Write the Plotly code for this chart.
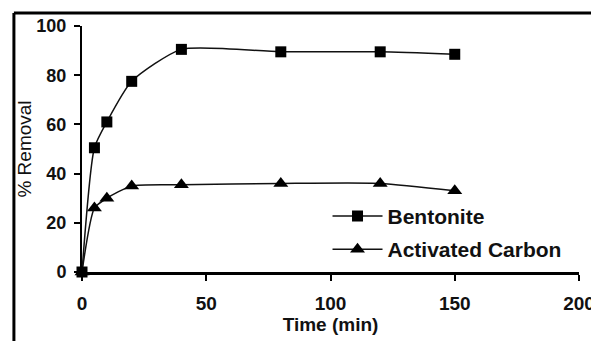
import plotly.graph_objects as go

time_min = [0, 5, 10, 20, 40, 80, 120, 150]
bentonite = [0, 50.5, 61, 77.5, 90.5, 89.5, 89.5, 88.5]
activated_carbon = [0, 26, 30, 35, 35.5, 36, 36, 33]
x_ticks = [0, 50, 100, 150, 200]
y_ticks = [0, 20, 40, 60, 80, 100]

FONT = "Liberation Sans, Arial, sans-serif"

fig = go.Figure()
fig.add_trace(go.Scatter(
    x=time_min, y=bentonite, name="Bentonite", mode="lines+markers",
    line=dict(color="#111", width=1.5, shape="spline", smoothing=0.6),
    marker=dict(symbol="square", size=11, color="#000"),
    cliponaxis=False, legendgroup="a"))
fig.add_trace(go.Scatter(
    x=time_min, y=activated_carbon, name="Activated Carbon", mode="lines+markers",
    line=dict(color="#111", width=1.5, shape="spline", smoothing=0.6),
    marker=dict(symbol="triangle-up", size=13, color="#000"),
    cliponaxis=False, legendgroup="b"))

fig.update_layout(
    width=591, height=341,
    margin=dict(l=82, r=12, t=26, b=69),
    paper_bgcolor="white", plot_bgcolor="white",
    font=dict(family=FONT, color="#111", size=18, weight="bold"),
    showlegend=True,
    legend=dict(x=0.494, y=0.31, xanchor="left", yanchor="top",
                bgcolor="rgba(0,0,0,0)", font=dict(size=21, weight="bold"),
                tracegroupgap=3, itemwidth=50),
    xaxis=dict(range=[0, 200], tickvals=x_ticks, showgrid=False, zeroline=False,
               showline=True, linecolor="#000", linewidth=3, automargin=False,
               ticks="outside", ticklen=6, tickwidth=2, tickcolor="#000",
               tickfont=dict(size=19), ticklabeloverflow="allow", ticklabelstandoff=6,
               title=dict(text="Time (min)", font=dict(size=19), standoff=5)),
    yaxis=dict(range=[0, 100], tickvals=y_ticks, showgrid=False, zeroline=False,
               showline=True, linecolor="#000", linewidth=2, automargin=False,
               ticks="outside", ticklen=6, tickwidth=2, tickcolor="#000",
               tickfont=dict(size=18), ticklabelstandoff=4,
               title=dict(text="% Removal", font=dict(size=19, weight="normal"), standoff=0)),
    shapes=[
        dict(type="line", xref="paper", yref="paper", x0=-0.137, x1=1.05, y0=1.053, y1=1.053,
             line=dict(color="#000", width=3)),
        dict(type="line", xref="paper", yref="paper", x0=-0.137, x1=-0.137, y0=1.053, y1=-0.3,
             line=dict(color="#000", width=3)),
    ],
)

fig.write_html("out.html", config={"displayModeBar": False},
               post_script="document.body.style.margin='0';")
